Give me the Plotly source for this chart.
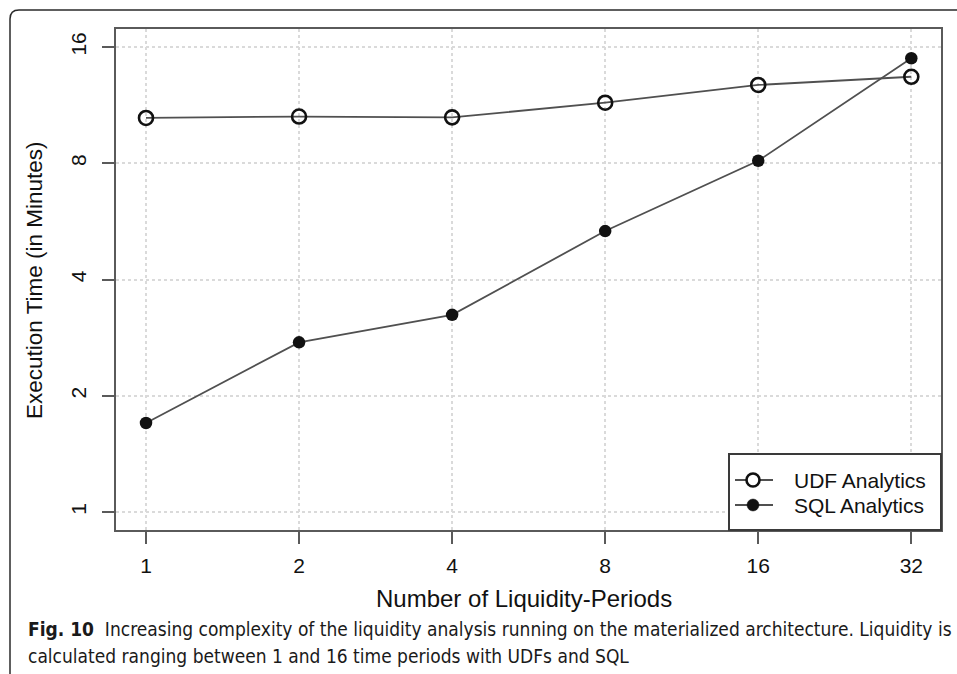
import plotly.graph_objects as go

# Execution time (minutes) per number of liquidity periods
periods = [1, 2, 4, 8, 16, 32]
udf_minutes = [10.48, 10.57, 10.52, 11.48, 12.76, 13.4]
sql_minutes = [1.70, 2.75, 3.24, 5.34, 8.12, 14.96]

x_ticks = [1, 2, 4, 8, 16, 32]
y_ticks = [1, 2, 4, 8, 16]

series_names = ["UDF Analytics", "SQL Analytics"]
x_title = "Number of Liquidity-Periods"
y_title = "Execution Time (in Minutes)"
caption_bold = "Fig. 10"
caption_line1 = "Increasing complexity of the liquidity analysis running on the materialized architecture. Liquidity is"
caption_line2 = "calculated ranging between 1 and 16 time periods with UDFs and SQL"

W, H = 957, 674
ML, MR, MT, MB = 116, 16, 29, 144
PW, PH = W - ML - MR, H - MT - MB

LOG2 = 0.30103
FONT = "Liberation Sans, Arial, sans-serif"
CAP_FONT = "Liberation Sans Narrow, DejaVu Sans Condensed, sans-serif"


def px(x):
    return (x - ML) / PW


def py(y):
    return (H - MB - y) / PH


fig = go.Figure()

fig.add_trace(go.Scatter(
    x=periods, y=udf_minutes, mode="lines+markers", name=series_names[0],
    line=dict(color="#505050", width=1.8),
    marker=dict(symbol="circle-open", size=14, color="#111111", line=dict(width=2.6)),
    showlegend=False,
))
fig.add_trace(go.Scatter(
    x=periods, y=sql_minutes, mode="lines+markers", name=series_names[1],
    line=dict(color="#505050", width=1.8),
    marker=dict(symbol="circle", size=12.5, color="#111111"),
    showlegend=False,
))

axis_common = dict(
    type="log",
    showline=True, mirror=True, linecolor="#5a5a5a", linewidth=2,
    ticks="outside", ticklen=12, tickwidth=2, tickcolor="#5a5a5a",
    showgrid=True, gridcolor="#dadada", gridwidth=1.5, griddash="dot",
    zeroline=False,
    tickfont=dict(family=FONT, size=21, color="#111111"),
)

fig.update_xaxes(
    **axis_common,
    range=[-0.196 * LOG2, 5.194 * LOG2],
    tickvals=x_ticks, ticktext=[str(v) for v in x_ticks],
    ticklabelstandoff=4,
)
fig.update_yaxes(
    **axis_common,
    range=[-0.155 * LOG2, 4.155 * LOG2],
    tickvals=y_ticks, ticktext=[str(v) for v in y_ticks],
    tickangle=-90,
    ticklabelstandoff=8,
)

shapes = []
# outer figure frame with rounded top-left corner
r = 9
path = (f"M {px(10)},{py(H + 5)} L {px(10)},{py(10 + r)} "
        f"Q {px(10)},{py(10)} {px(10 + r)},{py(10)} L {px(W + 5)},{py(10)}")
shapes.append(dict(type="path", xref="paper", yref="paper", path=path,
                   line=dict(color="#2a2a2a", width=1.5)))

# legend box
shapes.append(dict(type="rect", xref="paper", yref="paper",
                   x0=px(729), x1=1.0, y0=0.0, y1=py(454),
                   line=dict(color="#3a3a3a", width=2), fillcolor="white", layer="above"))

legend_rows = [480, 505]
for i, yy in enumerate(legend_rows):
    shapes.append(dict(type="line", xref="paper", yref="paper",
                       x0=px(735), x1=px(773), y0=py(yy), y1=py(yy),
                       line=dict(color="#505050", width=1.8), layer="above"))
    rr = 6.5 if i == 0 else 6
    shapes.append(dict(type="circle", xref="paper", yref="paper",
                       xsizemode="pixel", ysizemode="pixel",
                       xanchor=px(753), yanchor=py(yy),
                       x0=-rr, x1=rr, y0=-rr, y1=rr,
                       line=dict(color="#111111", width=2.6 if i == 0 else 0.5),
                       fillcolor="white" if i == 0 else "#111111", layer="above"))

annotations = []
for name, yy in zip(series_names, legend_rows):
    annotations.append(dict(xref="paper", yref="paper", x=px(792), y=py(yy),
                            xanchor="left", yanchor="middle", showarrow=False,
                            text=name, font=dict(family=FONT, size=21, color="#111111")))

annotations.append(dict(xref="paper", yref="paper", x=px(524), y=py(598),
                        xanchor="center", yanchor="middle", showarrow=False,
                        text=x_title, font=dict(family=FONT, size=24, color="#111111")))
annotations.append(dict(xref="paper", yref="paper", x=px(34), y=py(280),
                        xanchor="center", yanchor="middle", showarrow=False, textangle=-90,
                        text=y_title, font=dict(family=FONT, size=22.5, color="#111111")))

annotations.append(dict(xref="paper", yref="paper", x=px(26), y=py(629),
                        xanchor="left", yanchor="middle", showarrow=False,
                        text=f"<b>{caption_bold}</b>  {caption_line1}",
                        font=dict(family=CAP_FONT, size=19, color="#1a1a1a")))
annotations.append(dict(xref="paper", yref="paper", x=px(26), y=py(656),
                        xanchor="left", yanchor="middle", showarrow=False,
                        text=caption_line2,
                        font=dict(family=CAP_FONT, size=19, color="#1a1a1a")))

fig.update_layout(
    width=W, height=H,
    margin=dict(l=ML, r=MR, t=MT, b=MB, pad=0),
    paper_bgcolor="white", plot_bgcolor="white",
    shapes=shapes, annotations=annotations,
    showlegend=False,
)

fig.write_html("out.html")
